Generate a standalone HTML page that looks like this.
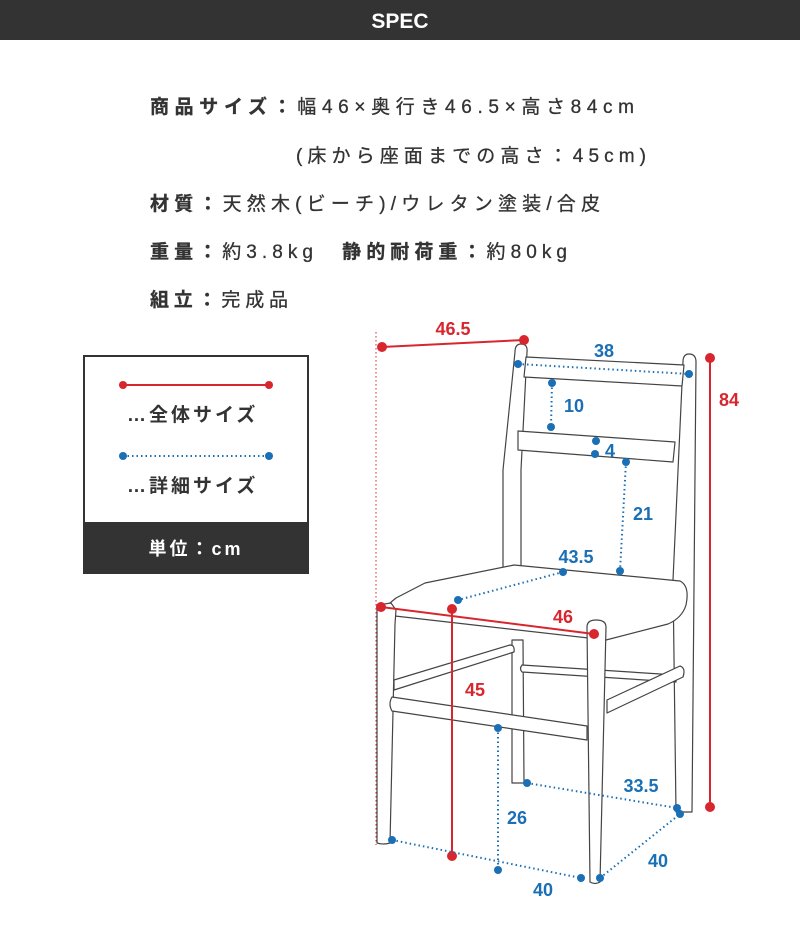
<!DOCTYPE html>
<html><head><meta charset="utf-8"><style>
html,body{margin:0;padding:0;background:#fff}
svg{display:block}
text{font-family:"Liberation Sans","Noto Sans CJK JP",sans-serif}
</style></head><body>
<svg width="800" height="942" viewBox="0 0 800 942" xmlns="http://www.w3.org/2000/svg">
<rect x="0" y="0" width="800" height="40" fill="#333"/>
<text x="400" y="28" fill="#fff" font-size="21" font-weight="bold" text-anchor="middle">SPEC</text>

<g fill="#333" font-size="19" letter-spacing="2" stroke="#333" stroke-width="0.3">
<text x="150" y="113" textLength="486" lengthAdjust="spacing"><tspan font-weight="bold">商品サイズ：</tspan>幅46×奥行き46.5×高さ84cm</text>
<text x="296" y="162" textLength="352" lengthAdjust="spacing">(床から座面までの高さ：45cm)</text>
<text x="150" y="210" textLength="452" lengthAdjust="spacing"><tspan font-weight="bold">材質：</tspan>天然木(ビーチ)/ウレタン塗装/合皮</text>
<text x="150" y="258" textLength="419" lengthAdjust="spacing"><tspan font-weight="bold">重量：</tspan>約3.8kg　<tspan font-weight="bold">静的耐荷重：</tspan>約80kg</text>
<text x="150" y="306" textLength="140" lengthAdjust="spacing"><tspan font-weight="bold">組立：</tspan>完成品</text>
</g>

<!-- legend -->
<rect x="84" y="356" width="224" height="217" fill="#fff" stroke="#333" stroke-width="2"/>
<rect x="83" y="522" width="226" height="52" fill="#333"/>
<line x1="123" y1="385" x2="269" y2="385" stroke="#d7262e" stroke-width="2"/>
<circle cx="123" cy="385" r="4" fill="#d7262e"/><circle cx="269" cy="385" r="4" fill="#d7262e"/>
<text x="127" y="421" fill="#333" font-size="19" font-weight="bold" letter-spacing="3">…全体サイズ</text>
<line x1="123" y1="456" x2="269" y2="456" stroke="#1a6fb5" stroke-width="2" stroke-dasharray="1.5 3"/>
<circle cx="123" cy="456" r="4" fill="#1a6fb5"/><circle cx="269" cy="456" r="4" fill="#1a6fb5"/>
<text x="127" y="492" fill="#333" font-size="19" font-weight="bold" letter-spacing="3">…詳細サイズ</text>
<text x="196" y="555" fill="#fff" font-size="18" font-weight="bold" letter-spacing="3" text-anchor="middle">単位：cm</text>

<!-- chair -->
<g fill="#fff" stroke="#444" stroke-width="1.2" stroke-linejoin="round">
<path d="M683 362 Q683 354 689 354 Q696 354 696 362 L692 812 L676 812 L673 580 Z"/>
<path d="M512 640 L512 783 L524 783 L523 640 Z"/>
<path d="M515 352 Q515 344 521 344 Q528 344 527 352 L521 470 L521 566 L503 568 L503 470 Z"/>
<path d="M526 357 L684 365 L682 386 L524 377 Z"/>
<path d="M518 431 L675 442 L673 462 L518 450 Z"/>
<path d="M522 665 L676 675 L676 682 L522 672 Q519 669 522 665 Z"/>
<path d="M394 680 L510 645 Q515 645 514 652 L394 690 Z"/>
<path d="M607 700 L680 666 Q686 668 683 677 L607 713 Z"/>
<path d="M514 565 L680 581 Q690 586 686 605 Q682 618 668 624 L606 640 L395 616 L384 608 L396 598 L425 583 Z"/>
<path d="M377 605 L391 603 L396 610 L395 624 L390 843 Q384 845 377 843 Z"/>
<path d="M392 697 L587 726 L587 740 L392 711 Q388 704 392 697 Z"/>
<path d="M587 627 Q587 620 596 620 Q606 620 606 627 L600 882 Q595 885 590 882 Z"/>
</g>

<!-- red dims -->
<g stroke="#d7262e" stroke-width="2" fill="#d7262e">
<line x1="376" y1="332" x2="376" y2="845" stroke-width="1" stroke-dasharray="1.5 2.5"/>
<line x1="382" y1="347" x2="524" y2="340"/>
<circle cx="382" cy="347" r="4"/><circle cx="524" cy="340" r="4"/>
<line x1="710" y1="358" x2="710" y2="807"/>
<circle cx="710" cy="358" r="4"/><circle cx="710" cy="807" r="4"/>
<line x1="381" y1="607" x2="594" y2="634"/>
<circle cx="381" cy="607" r="4"/><circle cx="594" cy="634" r="4"/>
<line x1="452" y1="609" x2="452" y2="856"/>
<circle cx="452" cy="609" r="4"/><circle cx="452" cy="856" r="4"/>
</g>
<g fill="#d7262e" font-size="18" font-weight="bold" text-anchor="middle">
<text x="453" y="335">46.5</text>
<text x="729" y="406">84</text>
<text x="563" y="623">46</text>
<text x="475" y="696">45</text>
</g>

<!-- blue dims -->
<g stroke="#1a6fb5" stroke-width="2" stroke-dasharray="1.5 3" fill="none">
<line x1="518" y1="364" x2="689" y2="374"/>
<line x1="552" y1="383" x2="551" y2="427"/>
<line x1="626" y1="462" x2="620" y2="571"/>
<line x1="563" y1="572" x2="458" y2="600"/>
<line x1="527" y1="783" x2="677" y2="808"/>
<line x1="600" y1="878" x2="680" y2="814"/>
<line x1="392" y1="840" x2="581" y2="878"/>
<line x1="498" y1="728" x2="498" y2="870"/>
</g>
<g fill="#1a6fb5">
<circle cx="518" cy="364" r="4"/><circle cx="689" cy="374" r="4"/>
<circle cx="552" cy="383" r="4"/><circle cx="551" cy="427" r="4"/>
<circle cx="596" cy="441" r="4"/><circle cx="595" cy="454" r="4"/>
<circle cx="626" cy="462" r="4"/><circle cx="620" cy="571" r="4"/>
<circle cx="563" cy="572" r="4"/><circle cx="458" cy="600" r="4"/>
<circle cx="527" cy="783" r="4"/><circle cx="677" cy="808" r="4"/><circle cx="680" cy="814" r="4"/>
<circle cx="600" cy="878" r="4"/><circle cx="581" cy="878" r="4"/>
<circle cx="392" cy="840" r="4"/>
<circle cx="498" cy="728" r="4"/><circle cx="498" cy="870" r="4"/>
</g>
<g fill="#1a6fb5" font-size="18" font-weight="bold" text-anchor="middle">
<text x="604" y="357">38</text>
<text x="574" y="412">10</text>
<text x="610" y="457">4</text>
<text x="643" y="520">21</text>
<text x="576" y="563">43.5</text>
<text x="641" y="792">33.5</text>
<text x="517" y="824">26</text>
<text x="658" y="867">40</text>
<text x="543" y="896">40</text>
</g>
</svg>
</body></html>
